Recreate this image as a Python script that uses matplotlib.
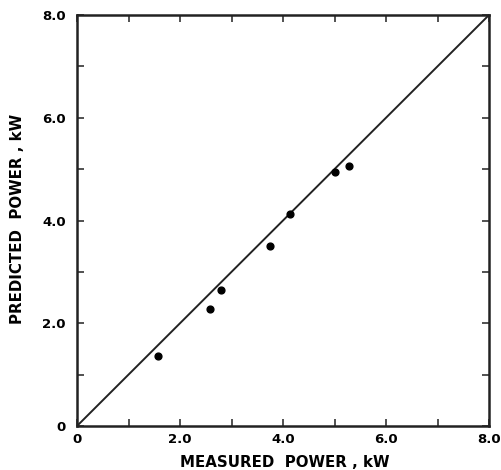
import matplotlib
matplotlib.use("Agg")
import matplotlib.pyplot as plt
import numpy as np

plt.rcParams.update({"font.family": "DejaVu Sans"})

measured = [1.57, 2.58, 2.80, 3.75, 4.14, 5.00, 5.29]
predicted = [1.36, 2.28, 2.65, 3.50, 4.12, 4.95, 5.06]
major_ticks = [0, 2, 4, 6, 8]
tick_labels = ["0", "2.0", "4.0", "6.0", "8.0"]

fig = plt.figure(figsize=(5.01, 4.70), dpi=100)
ax = fig.add_axes([77 / 501, 1 - 426 / 470, 412 / 501, 411 / 470])

ax.plot([0, 8], [0, 8], color="#222222", lw=1.4)
ax.scatter(measured, predicted, s=24, color="black", zorder=3)

ax.set_xlim(0, 8); ax.set_ylim(0, 8)
ax.set_xticks(major_ticks)
ax.set_yticks(major_ticks)
ax.set_xticks([1, 3, 5, 7], minor=True)
ax.set_yticks([1, 3, 5, 7], minor=True)
ax.set_xticklabels(tick_labels, fontsize=9.5, fontweight="bold")
ax.set_yticklabels(tick_labels, fontsize=9.5, fontweight="bold")
ax.tick_params(which="both", direction="in", length=5, width=1.2, top=True, right=True,
               color="#333333")
ax.tick_params(axis="x", pad=5)
ax.tick_params(axis="y", pad=8)
for s in ax.spines.values():
    s.set_linewidth(1.8)
    s.set_color("#222222")

ax.set_xlabel("MEASURED  POWER , kW", fontsize=10.8, fontweight="bold")
ax.set_ylabel("PREDICTED  POWER , kW", fontsize=10.8, fontweight="bold")
ax.xaxis.set_label_coords(0.505, -0.071)
ax.yaxis.set_label_coords(-0.125, 0.505)

fig.savefig("out.png", dpi=100)
